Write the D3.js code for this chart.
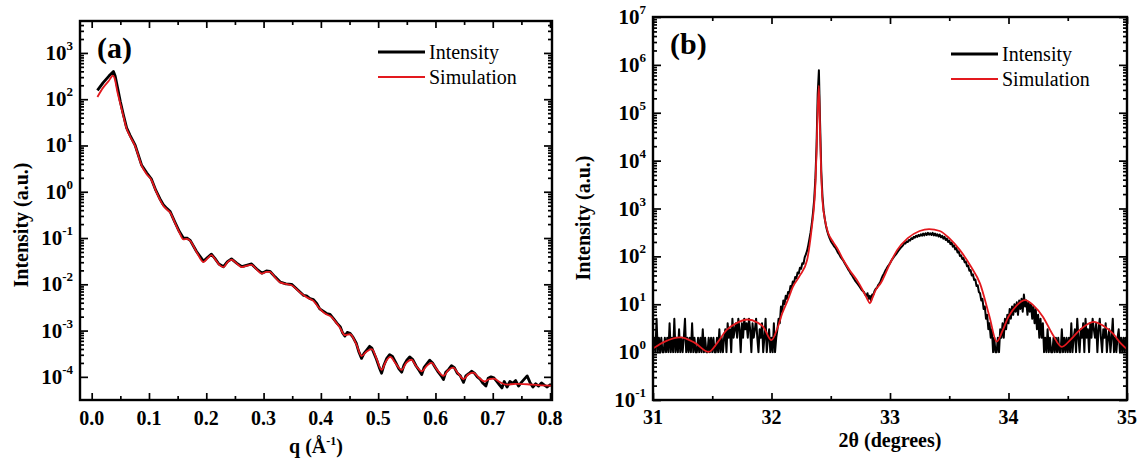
<!DOCTYPE html>
<html>
<head>
<meta charset="utf-8">
<script src="https://cdn.jsdelivr.net/npm/d3@7"></script>
<style>
body { margin: 0; background: #fff; }
svg { display: block; }
text { font-family: "Liberation Serif", "Times New Roman", serif; }
</style>
</head>
<body>
<svg id="chart" width="1142" height="460"></svg>
<script>
var seriesNames = ["Intensity", "Simulation"];
var seriesColors = ["#000000", "#e3191e"];

// panel (a) : reflectivity
var qTicks = [0.0, 0.1, 0.2, 0.3, 0.4, 0.5, 0.6, 0.7, 0.8];
var qMinor = [0.05, 0.15, 0.25, 0.35, 0.45, 0.55, 0.65, 0.75];
var aDecades = [-4, -3, -2, -1, 0, 1, 2, 3];

var qIntensity = [0.010, 0.020, 0.030, 0.038, 0.041, 0.046, 0.050, 0.055, 0.061, 0.067, 0.076, 0.087, 0.096, 0.104, 0.112, 0.119, 0.125, 0.131, 0.137, 0.145,
  0.153, 0.160, 0.166, 0.172, 0.183, 0.195, 0.203, 0.209, 0.215, 0.222, 0.230, 0.237, 0.244, 0.253, 0.262, 0.270, 0.279, 0.288, 0.297, 0.305,
  0.311, 0.320, 0.329, 0.339, 0.349, 0.357, 0.364, 0.370, 0.375, 0.381, 0.387, 0.393, 0.398, 0.404, 0.410, 0.416, 0.422, 0.428, 0.434, 0.438,
  0.442, 0.446, 0.451, 0.456, 0.462, 0.466, 0.471, 0.475, 0.480, 0.485, 0.489, 0.493, 0.497, 0.502, 0.506, 0.510, 0.515, 0.520, 0.525, 0.531,
  0.536, 0.541, 0.545, 0.550, 0.555, 0.560, 0.566, 0.571, 0.576, 0.580, 0.585, 0.590, 0.595, 0.600, 0.605, 0.610, 0.614, 0.618, 0.623, 0.628,
  0.633, 0.638, 0.643, 0.649, 0.653, 0.658, 0.663, 0.668, 0.673, 0.678, 0.683, 0.688, 0.692, 0.697, 0.702, 0.707, 0.712, 0.716, 0.720, 0.725,
  0.730, 0.735, 0.740, 0.745, 0.750, 0.755, 0.760, 0.765, 0.770, 0.775, 0.780, 0.785, 0.790, 0.795, 0.800, 0.803];
var valIntensity = [155, 229, 316, 398, 316, 158, 89.1, 47.9, 24.0, 16.6, 10.0, 3.80, 2.57, 1.91, 1.07, 0.708, 0.525, 0.437, 0.372, 0.224,
  0.138, 0.100, 0.100, 0.0891, 0.0513, 0.0316, 0.0389, 0.0447, 0.0363, 0.0275, 0.0240, 0.0309, 0.0355, 0.0288, 0.0240, 0.0257, 0.0275, 0.0214, 0.0174, 0.0195,
  0.0191, 0.0145, 0.0112, 0.0102, 0.0100, 0.00813, 0.00676, 0.00575, 0.00562, 0.00490, 0.00468, 0.00380, 0.00295, 0.00263, 0.00234, 0.00224, 0.00182, 0.00145, 0.00120, 8.91e-4,
  7.59e-4, 9.12e-4, 8.71e-4, 7.24e-4, 5.25e-4, 3.55e-4, 2.51e-4, 3.16e-4, 3.80e-4, 4.57e-4, 4.17e-4, 3.16e-4, 2.40e-4, 1.58e-4, 1.20e-4, 1.78e-4, 2.51e-4, 3.02e-4, 2.75e-4, 2.00e-4,
  1.51e-4, 1.26e-4, 1.78e-4, 2.29e-4, 2.69e-4, 2.40e-4, 1.74e-4, 1.41e-4, 1.12e-4, 1.58e-4, 1.91e-4, 2.29e-4, 2.00e-4, 1.58e-4, 1.26e-4, 1.05e-4, 8.71e-5, 1.26e-4, 1.45e-4, 1.74e-4,
  1.58e-4, 1.20e-4, 1.07e-4, 7.59e-5, 1.05e-4, 1.17e-4, 1.32e-4, 1.20e-4, 1.00e-4, 8.91e-5, 7.24e-5, 6.31e-5, 9.33e-5, 1.00e-4, 9.55e-5, 7.94e-5, 6.61e-5, 5.75e-5, 7.94e-5, 6.03e-5,
  7.94e-5, 7.24e-5, 8.32e-5, 6.31e-5, 7.59e-5, 8.91e-5, 1.05e-4, 7.59e-5, 6.03e-5, 7.08e-5, 6.31e-5, 7.41e-5, 6.61e-5, 6.03e-5, 6.76e-5, 6.46e-5];

var qSimulation = [0.010, 0.020, 0.030, 0.037, 0.040, 0.045, 0.050, 0.055, 0.061, 0.067, 0.076, 0.087, 0.096, 0.104, 0.112, 0.119, 0.125, 0.131, 0.137, 0.145,
  0.153, 0.160, 0.166, 0.172, 0.183, 0.195, 0.203, 0.209, 0.215, 0.222, 0.230, 0.237, 0.244, 0.253, 0.262, 0.270, 0.279, 0.288, 0.297, 0.305,
  0.311, 0.320, 0.329, 0.339, 0.349, 0.357, 0.364, 0.375, 0.387, 0.396, 0.404, 0.411, 0.418, 0.425, 0.433, 0.442, 0.451, 0.462, 0.471, 0.480,
  0.489, 0.497, 0.506, 0.513, 0.521, 0.531, 0.541, 0.549, 0.558, 0.567, 0.576, 0.585, 0.593, 0.603, 0.614, 0.622, 0.631, 0.640, 0.649, 0.657,
  0.666, 0.676, 0.686, 0.694, 0.702, 0.713, 0.724, 0.740, 0.760, 0.780, 0.803];
var valSimulation = [112, 178, 251, 324, 282, 141, 79.4, 44.7, 22.9, 15.8, 9.55, 3.72, 2.40, 1.82, 1.05, 0.676, 0.501, 0.417, 0.355, 0.219,
  0.132, 0.0933, 0.0955, 0.0871, 0.0501, 0.0302, 0.0372, 0.0427, 0.0355, 0.0269, 0.0234, 0.0302, 0.0339, 0.0282, 0.0234, 0.0251, 0.0263, 0.0209, 0.0170, 0.0186,
  0.0186, 0.0141, 0.0110, 0.0102, 0.00955, 0.00794, 0.00661, 0.00525, 0.00437, 0.00316, 0.00251, 0.00219, 0.00200, 0.00158, 0.00117, 7.94e-4, 8.32e-4, 5.01e-4, 2.82e-4, 3.55e-4,
  3.98e-4, 2.51e-4, 1.41e-4, 2.09e-4, 2.69e-4, 1.91e-4, 1.41e-4, 2.00e-4, 2.34e-4, 1.66e-4, 1.32e-4, 1.74e-4, 2.00e-4, 1.41e-4, 1.05e-4, 1.38e-4, 1.58e-4, 1.17e-4, 8.91e-5, 1.12e-4,
  1.23e-4, 9.55e-5, 7.94e-5, 8.91e-5, 9.12e-5, 7.59e-5, 6.76e-5, 7.08e-5, 6.92e-5, 6.61e-5, 6.46e-5];

// panel (b) : XRD scan, measured every 0.01 degree from 31.00 to 35.00
var thetaTicks = [31, 32, 33, 34, 35];
var thetaMinor = [31.5, 32.5, 33.5, 34.5];
var bDecades = [-1, 0, 1, 2, 3, 4, 5, 6, 7];
var thetaStart = 31.0, thetaStep = 0.01;
var xrdIntensity = [
  1, 2, 1, 5, 1, 2, 1, 2, 1, 1,
  2, 1, 2, 1, 4, 1, 2, 1, 5, 1,
  2, 1, 3, 1, 2, 1, 2, 5, 1, 2,
  1, 2, 1, 4, 1, 2, 1, 1, 2, 1,
  2, 1, 3, 1, 2, 1, 1, 2, 1, 2,
  1, 2, 1, 1, 2, 1, 3, 1, 2, 1,
  2, 3, 1, 4, 2, 3, 1, 5, 2, 3,
  4, 2, 5, 3, 1, 4, 2, 5, 3, 4,
  2, 5, 3, 1, 4, 2, 3, 5, 2, 1,
  3, 2, 4, 1, 2, 5, 1, 2, 3, 1,
  2, 1, 4, 1, 2, 3, 5, 4, 9, 7,
  12, 10, 15, 13, 18, 17, 24, 22, 30, 28,
  37, 35, 46, 44, 58, 55, 72, 70, 95, 110,
  130, 170, 230, 320, 480, 800, 1500, 4000, 20000, 250000,
  770000, 60000, 6000, 1800, 900, 600, 430, 340, 280, 240,
  210, 190, 175, 160, 150, 135, 120, 112, 100, 92,
  85, 78, 70, 64, 58, 52, 48, 43, 40, 36,
  33, 30, 28, 26, 24, 22, 20, 19, 18, 16,
  15, 17, 13, 15, 12, 16, 16, 19, 21, 22,
  25, 27, 30, 35, 40, 44, 50, 55, 61, 66,
  72, 80, 88, 95, 103, 110, 120, 130, 140, 150,
  160, 170, 190, 185, 205, 200, 220, 215, 240, 230,
  255, 245, 270, 255, 280, 265, 290, 270, 300, 275,
  305, 280, 310, 285, 305, 280, 310, 275, 300, 270,
  290, 260, 285, 250, 270, 235, 255, 220, 235, 200,
  215, 180, 195, 160, 170, 140, 150, 120, 128, 102,
  105, 88, 92, 75, 78, 62, 64, 50, 52, 40,
  42, 32, 33, 24, 25, 18, 17, 12, 13, 8,
  9, 5, 6, 3, 4, 2, 3, 1, 2, 1,
  1, 2, 1, 3, 2, 4, 2, 5, 3, 6,
  4, 8, 5, 9, 6, 10, 7, 11, 6, 12,
  8, 13, 7, 16, 9, 12, 6, 11, 7, 10,
  5, 9, 4, 8, 3, 6, 2, 5, 2, 4,
  1, 2, 1, 3, 1, 2, 1, 1, 2, 1,
  2, 1, 2, 1, 1, 3, 1, 2, 1, 2,
  1, 2, 1, 4, 1, 2, 3, 1, 5, 2,
  1, 3, 2, 4, 1, 5, 2, 3, 1, 4,
  2, 5, 3, 2, 4, 1, 3, 5, 2, 1,
  3, 2, 4, 1, 2, 3, 1, 2, 5, 1,
  2, 1, 2, 3, 1, 2, 1, 2, 1, 2,
  1];

var thetaSimulation = [31.00, 31.10, 31.23, 31.35, 31.47, 31.55, 31.62, 31.70, 31.80, 31.88, 31.93, 32.00, 32.05, 32.09, 32.14, 32.18, 32.24, 32.30, 32.34, 32.36,
  32.37, 32.38, 32.39, 32.40, 32.41, 32.42, 32.43, 32.45, 32.48, 32.52, 32.56, 32.60, 32.66, 32.72, 32.77, 32.81, 32.83, 32.85, 32.88, 32.92,
  33.00, 33.06, 33.15, 33.25, 33.33, 33.42, 33.50, 33.59, 33.68, 33.76, 33.84, 33.90, 33.95, 34.00, 34.07, 34.14, 34.21, 34.29, 34.37, 34.45,
  34.52, 34.60, 34.72, 34.80, 34.88, 34.95, 35.00];
var xrdSimulation = [1.19, 1.66, 2.03, 1.58, 1.01, 1.66, 2.88, 3.98, 4.8, 4.17, 3.38, 1.78, 3.16, 6.4, 12.6, 23, 40, 83, 400, 1200,
  3000, 15000, 120000, 370000, 40000, 5000, 1500, 600, 300, 200, 140, 89, 51, 32, 19.6, 12.6, 10.4, 13.2, 20, 27,
  71, 135, 240, 339, 372, 339, 240, 135, 63, 27, 5.5, 1.66, 2.8, 5.5, 9.5, 12.2, 9.5, 5.5, 2.4, 1.29,
  1.78, 2.88, 4.3, 3.55, 2.45, 1.5, 1.15];

var serif = "Liberation Serif";
var svg = d3.select("#chart").attr("font-family", serif);

function superLabel(sel, base, exp) {
  sel.append("tspan").text(base);
  sel.append("tspan").attr("font-size", 13).attr("dy", -10).text(exp);
}

function logMinor(decades) {
  var out = [];
  decades.forEach(function(d) {
    for (var k = 2; k <= 9; k++) out.push(k * Math.pow(10, d));
  });
  return out;
}

function drawPanel(cfg) {
  var g = svg.append("g");
  var x = d3.scaleLinear().domain(cfg.xDomain).range([cfg.left, cfg.right]);
  var y = d3.scaleLog().domain(cfg.yDomain).range([cfg.bottom, cfg.top]);
  var w = cfg.right - cfg.left, h = cfg.bottom - cfg.top;

  var yMinor = logMinor(cfg.decades).filter(function(v) { return v > cfg.yDomain[0] && v < cfg.yDomain[1]; });
  var yMajor = cfg.decades.map(function(d) { return Math.pow(10, d); })
    .filter(function(v) { return v >= cfg.yDomain[0] && v <= cfg.yDomain[1]; });

  // ticks on all four sides, pointing inward
  [[d3.axisBottom, cfg.bottom], [d3.axisTop, cfg.top]].forEach(function(a) {
    g.append("g").attr("transform", "translate(0," + a[1] + ")")
      .call(a[0](x).tickValues(cfg.xTicks).tickSize(-7).tickFormat(""))
      .call(function(s) { s.select(".domain").remove(); });
    g.append("g").attr("transform", "translate(0," + a[1] + ")")
      .call(a[0](x).tickValues(cfg.xMinor).tickSize(-4).tickFormat(""))
      .call(function(s) { s.select(".domain").remove(); });
  });
  [[d3.axisLeft, cfg.left], [d3.axisRight, cfg.right]].forEach(function(a) {
    g.append("g").attr("transform", "translate(" + a[1] + ",0)")
      .call(a[0](y).tickValues(yMajor).tickSize(-8).tickFormat(""))
      .call(function(s) { s.select(".domain").remove(); });
    g.append("g").attr("transform", "translate(" + a[1] + ",0)")
      .call(a[0](y).tickValues(yMinor).tickSize(-4).tickFormat(""))
      .call(function(s) { s.select(".domain").remove(); });
  });
  g.selectAll(".tick line").attr("stroke", "#000").attr("stroke-width", 1.7);

  // curves
  g.append("clipPath").attr("id", "clip-" + cfg.name)
    .append("rect").attr("x", cfg.left).attr("y", cfg.top).attr("width", w).attr("height", h);
  var plot = g.append("g").attr("clip-path", "url(#clip-" + cfg.name + ")");

  var rough = d3.line().x(function(d) { return x(d[0]); }).y(function(d) { return y(d[1]); });
  var smooth = d3.line().curve(d3.curveMonotoneX).x(function(d) { return x(d[0]); }).y(function(d) { return y(d[1]); });

  plot.append("path").datum(cfg.measured)
    .attr("fill", "none").attr("stroke", seriesColors[0])
    .attr("stroke-width", cfg.measWidth).attr("stroke-linejoin", "round")
    .attr("d", rough);
  plot.append("path").datum(cfg.simulated)
    .attr("fill", "none").attr("stroke", seriesColors[1])
    .attr("stroke-width", 1.8).attr("stroke-linejoin", "round")
    .attr("d", smooth);

  // frame
  g.append("rect").attr("x", cfg.left).attr("y", cfg.top).attr("width", w).attr("height", h)
    .attr("fill", "none").attr("stroke", "#000").attr("stroke-width", 2.4);

  // tick labels
  g.selectAll("text.xl").data(cfg.xTicks).enter().append("text")
    .attr("class", "xl")
    .attr("x", function(d) { return x(d); })
    .attr("y", cfg.bottom + cfg.xLabelGap)
    .attr("text-anchor", "middle")
    .attr("font-size", 20).attr("font-weight", "bold")
    .text(cfg.xFormat);

  cfg.decades.forEach(function(d) {
    var t = g.append("text")
      .attr("x", cfg.left - 7)
      .attr("y", y(Math.pow(10, d)) + 7)
      .attr("text-anchor", "end")
      .attr("font-size", 21).attr("font-weight", "bold");
    superLabel(t, "10", String(d));
  });

  // axis titles
  var xt = g.append("text")
    .attr("x", (cfg.left + cfg.right) / 2)
    .attr("y", cfg.bottom + cfg.xTitleGap)
    .attr("text-anchor", "middle")
    .attr("font-size", 20).attr("font-weight", "bold");
  cfg.xTitle(xt);

  g.append("text")
    .attr("transform", "translate(" + cfg.yTitleX + "," + cfg.yTitleY + ") rotate(-90)")
    .attr("text-anchor", "middle")
    .attr("font-size", 20).attr("font-weight", "bold")
    .text("Intensity (a.u.)");

  // panel letter
  g.append("text")
    .attr("x", cfg.left + 17).attr("y", cfg.top + 37)
    .attr("font-size", 30).attr("font-weight", "bold")
    .text(cfg.letter);

  // legend
  var leg = g.selectAll("g.leg").data(seriesNames).enter().append("g")
    .attr("class", "leg")
    .attr("transform", function(d, i) { return "translate(" + cfg.legX + "," + (cfg.legY + i * 25) + ")"; });
  leg.append("line")
    .attr("x1", 0).attr("x2", 47).attr("y1", 0).attr("y2", 0)
    .attr("stroke", function(d, i) { return seriesColors[i]; })
    .attr("stroke-width", function(d, i) { return i === 0 ? 3 : 2; });
  leg.append("text")
    .attr("x", 51).attr("y", 7)
    .attr("font-size", 20)
    .text(function(d) { return d; });
}

drawPanel({
  name: "a", letter: "(a)",
  left: 80, right: 552, top: 21, bottom: 400,
  xDomain: [-0.0204, 0.8034], yDomain: [3.16e-5, 4.9e3],
  xTicks: qTicks, xMinor: qMinor, decades: aDecades,
  xFormat: d3.format(".1f"),
  xLabelGap: 25, xTitleGap: 53,
  xTitle: function(t) {
    t.append("tspan").text("q (\u00C5");
    t.append("tspan").attr("font-size", 12).attr("dy", -8).text("-1");
    t.append("tspan").attr("dy", 8).text(")");
  },
  yTitleX: 28, yTitleY: 225,
  measured: qIntensity.map(function(q, i) { return [q, valIntensity[i]]; }),
  simulated: qSimulation.map(function(q, i) { return [q, valSimulation[i]]; }),
  measWidth: 2.8,
  legX: 378, legY: 52
});

drawPanel({
  name: "b", letter: "(b)",
  left: 653, right: 1127, top: 17, bottom: 400,
  xDomain: [31, 35], yDomain: [0.1, 1e7],
  xTicks: thetaTicks, xMinor: thetaMinor, decades: bDecades,
  xFormat: d3.format("d"),
  xLabelGap: 24, xTitleGap: 47,
  xTitle: function(t) { t.text("2\u03B8 (degrees)"); },
  yTitleX: 590, yTitleY: 218,
  measured: xrdIntensity.map(function(v, i) { return [thetaStart + i * thetaStep, v]; }),
  simulated: thetaSimulation.map(function(t, i) { return [t, xrdSimulation[i]]; }),
  measWidth: 2.0,
  legX: 951, legY: 54
});
</script>
</body>
</html>
